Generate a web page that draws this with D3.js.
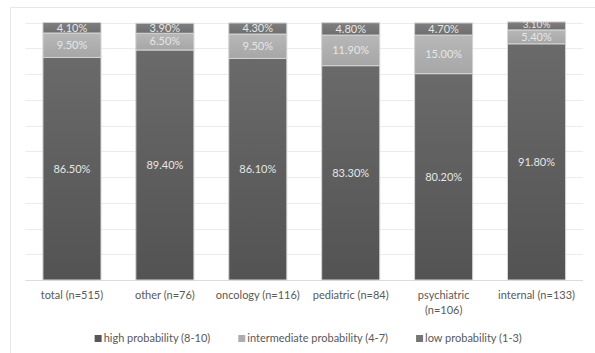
<!DOCTYPE html>
<html>
<head>
<meta charset="utf-8">
<script src="https://cdn.jsdelivr.net/npm/d3@7"></script>
<style>
  html, body { margin: 0; padding: 0; background: #fff; }
  svg { display: block; font-family: Lato, "Open Sans", sans-serif; }
</style>
</head>
<body>
<svg id="chart" width="595" height="353"></svg>
<script>
// Share of ratings per department, stacked to ~100%
const categories = ["total (n=515)", "other (n=76)", "oncology (n=116)", "pediatric (n=84)", "psychiatric (n=106)", "internal (n=133)"];
const highProb = [86.5, 89.4, 86.1, 83.3, 80.2, 91.8];
const intermediateProb = [9.5, 6.5, 9.5, 11.9, 15.0, 5.4];
const lowProb = [4.1, 3.9, 4.3, 4.8, 4.7, 3.1];
const seriesNames = ["high probability (8-10)", "intermediate probability (4-7)", "low probability (1-3)"];
const yTicks = [0, 10, 20, 30, 40, 50, 60, 70, 80, 90, 100];

const rows = categories.map((c, i) => ({
  cat: c, high: highProb[i], mid: intermediateProb[i], low: lowProb[i]
}));
const keys = ["high", "mid", "low"];

const svg = d3.select("#chart");
const W = 595, H = 353;

// outer chart frame
svg.append("rect")
  .attr("x", 10.5).attr("y", 7.5)
  .attr("width", W - 10).attr("height", H - 6)
  .attr("fill", "#fff").attr("stroke", "#e4e7ec").attr("stroke-width", 1);

const plot = { left: 25.5, right: 583, top: 22.7, bottom: 280 };

const x = d3.scaleBand().domain(categories).range([plot.left, plot.right]).paddingInner(0.375).paddingOuter(0.1875);
const y = d3.scaleLinear().domain([0, 100]).range([plot.bottom, plot.top]);

// gradients for the bar segments
const defs = svg.append("defs");
const grads = {
  high: ["#6a6a6a", "#535353"],
  mid: ["#b8b8b8", "#a6a6a6"],
  low: ["#7f7f7f", "#6e6e6e"]
};
keys.forEach(k => {
  const g = defs.append("linearGradient").attr("id", "g-" + k)
    .attr("x1", 0).attr("y1", 0).attr("x2", 0).attr("y2", 1);
  g.append("stop").attr("offset", "0%").attr("stop-color", grads[k][0]);
  g.append("stop").attr("offset", "100%").attr("stop-color", grads[k][1]);
});

// horizontal gridlines
svg.append("g").selectAll("line").data(yTicks).join("line")
  .attr("x1", plot.left).attr("x2", plot.right)
  .attr("y1", d => Math.round(y(d)) + 0.5).attr("y2", d => Math.round(y(d)) + 0.5)
  .attr("stroke", d => d === 0 ? "#d9dde3" : "#e8ebef").attr("stroke-width", 1);

const stacked = d3.stack().keys(keys)(rows);

const layers = svg.append("g").selectAll("g").data(stacked).join("g")
  .attr("fill", d => "url(#g-" + d.key + ")");

layers.selectAll("rect").data(d => d).join("rect")
  .attr("x", d => x(d.data.cat))
  .attr("width", x.bandwidth())
  .attr("y", d => y(d[1]))
  .attr("height", d => y(d[0]) - y(d[1]))
  .attr("stroke", "#d4d4d4").attr("stroke-width", 1);

// value labels centered in each segment (thin segments get a smaller font)
const fmt = v => v.toFixed(2) + "%";
svg.append("g").selectAll("g").data(stacked).join("g")
  .selectAll("text").data(d => d.map(s => ({ s, key: d.key }))).join("text")
  .each(function (d) {
    const h = y(d.s[0]) - y(d.s[1]);
    const thin = h < 9;
    d3.select(this)
      .attr("x", x(d.s.data.cat) + x.bandwidth() / 2)
      .attr("y", (y(d.s[0]) + y(d.s[1])) / 2 - (thin ? 1 : 0))
      .attr("font-size", thin ? 10 : 11);
  })
  .attr("dy", "0.35em")
  .attr("text-anchor", "middle")
  .attr("fill", "#e6e6e6")
  .text(d => fmt(d.s.data[d.key]));

// category axis labels (wrapped to band width)
const xAxis = svg.append("g");
categories.forEach(c => {
  const t = xAxis.append("text")
    .attr("x", x(c) + x.bandwidth() / 2)
    .attr("y", 299)
    .attr("text-anchor", "middle")
    .attr("font-size", 11)
    .attr("fill", "#595959");
  const cx = x(c) + x.bandwidth() / 2;
  const maxW = x.step() - 4;
  const words = c.split(" ");
  let line = [];
  let tspan = t.append("tspan").attr("x", cx).attr("dy", 0);
  words.forEach(w => {
    line.push(w);
    tspan.text(line.join(" "));
    if (tspan.node().getComputedTextLength() > maxW && line.length > 1) {
      line.pop();
      tspan.text(line.join(" "));
      line = [w];
      tspan = t.append("tspan").attr("x", cx).attr("dy", 15).text(w);
    }
  });
});

// legend
const legendColors = ["#575757", "#adadad", "#757575"];
const legend = svg.append("g");
let lx = 0;
const items = legend.selectAll("g").data(seriesNames).join("g");
items.append("rect").attr("width", 7).attr("height", 7).attr("y", -7)
  .attr("fill", (d, i) => legendColors[i]);
items.append("text").attr("x", 9).attr("y", 0)
  .attr("font-size", 11).attr("fill", "#595959").text(d => d);
const gap = 28;
items.each(function () {
  const wdt = this.getBBox().width;
  d3.select(this).attr("transform", `translate(${lx},0)`);
  lx += wdt + gap;
});
const totalW = lx - gap;
legend.attr("transform", `translate(${(plot.left + plot.right) / 2 - totalW / 2 + 4},342)`);
</script>
</body>
</html>
